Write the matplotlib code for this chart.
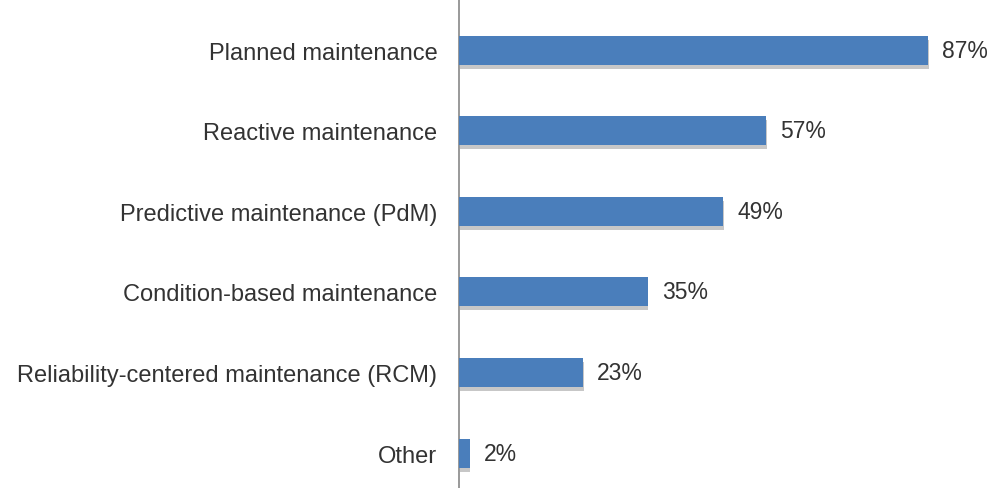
"""Maintenance strategies in use — horizontal bar chart."""

import matplotlib

matplotlib.use("Agg")
import matplotlib.pyplot as plt
import matplotlib.patheffects as pe

plt.rcParams["font.family"] = ["Liberation Sans", "DejaVu Sans"]

categories = [
    "Planned maintenance",
    "Reactive maintenance",
    "Predictive maintenance (PdM)",
    "Condition-based maintenance",
    "Reliability-centered maintenance (RCM)",
    "Other",
]
values = [87, 57, 49, 35, 23, 2]
value_labels = ["87%", "57%", "49%", "35%", "23%", "2%"]

fig = plt.figure(figsize=(9.92, 4.89), dpi=100)
ax = fig.add_axes([0.4627, 0.0, 0.5373, 1.0])

ypos = list(range(len(categories)))
bars = ax.barh(ypos, values, height=0.36, color="#4a7ebb", zorder=3)
for b in bars:
    b.set_path_effects([
        pe.SimplePatchShadow(offset=(0.5, -3), shadow_rgbFace="#909090", alpha=0.5),
        pe.Normal(),
    ])

for y, v, lab in zip(ypos, values, value_labels):
    ax.text(v + 2.6, y, lab, va="center", ha="left", fontsize=16.5, color="#333333")

ax.set_xlim(0, 98.9)
ax.set_ylim(5.434, -0.633)
ax.set_yticks(ypos)
ax.set_yticklabels(categories, fontsize=17, color="#333333")
ax.tick_params(axis="y", length=0, pad=15.5)
ax.set_xticks([])

for side in ("top", "right", "bottom"):
    ax.spines[side].set_visible(False)
ax.spines["left"].set_color("#888888")
ax.spines["left"].set_linewidth(1.2)

fig.savefig("out.png", dpi=100)
